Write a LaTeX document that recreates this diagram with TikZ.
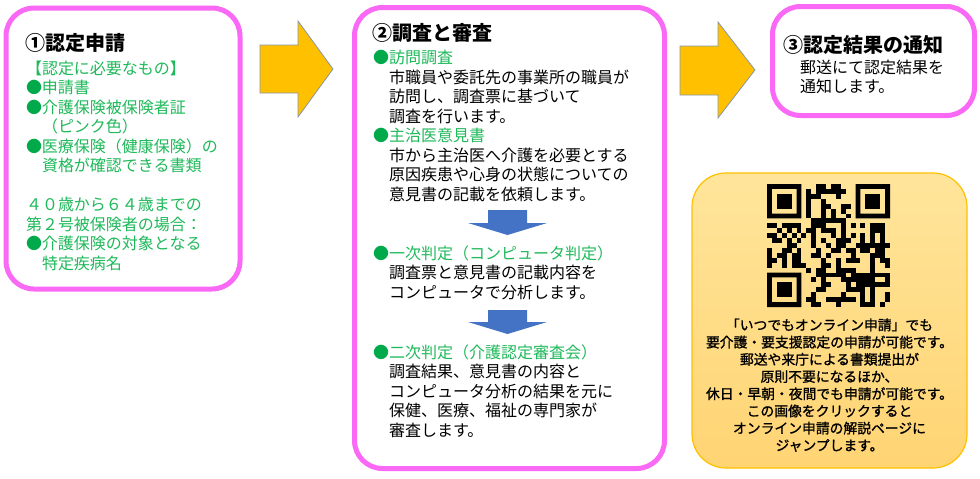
\documentclass[tikz,border=0pt]{standalone}
\usepackage{fontspec}
\setmainfont{Noto Sans CJK JP}
\newfontfamily\jpheavy[FakeBold=1.2]{Noto Sans CJK JP}
\usetikzlibrary{positioning, calc}

\definecolor{pinkline}{RGB}{250,105,245}
\definecolor{greentext}{RGB}{30,185,90}
\definecolor{bulletgreen}{RGB}{0,170,75}
\definecolor{arroworange}{RGB}{255,192,0}
\definecolor{arrowedge}{RGB}{132,151,176}
\definecolor{arrowblue}{RGB}{68,114,196}
\definecolor{qrtop}{RGB}{255,229,155}
\definecolor{qrbottom}{RGB}{255,212,115}
\definecolor{qredge}{RGB}{255,192,0}

\newcommand\grnbullet{\textcolor{bulletgreen}{●}}

\tikzset{
  stepbox/.style={draw=pinkline, line width=5, rounded corners=28, fill=white},
  qrbox/.style={draw=qredge, line width=1.2, rounded corners=34, top color=qrtop, bottom color=qrbottom},
  titletext/.style={anchor=north west, font=\fontsize{20}{24}\selectfont\bfseries},
  bodytext/.style={anchor=north west, align=left, font=\fontsize{16}{19.5}\selectfont},
  bigarrow/.style={fill=arroworange, draw=arrowedge, line width=0.8},
  downarrow/.style={fill=arrowblue}
}

\begin{document}
\begin{tikzpicture}[x=1pt, y=-1pt, every node/.style={inner sep=0, outer sep=0}]
  \useasboundingbox (0,0) rectangle (980,479);

  % boxes
  \node[stepbox, minimum width=234, minimum height=281] (apply) at (123,148.5) {};
  \node[stepbox, minimum width=310, minimum height=461] (survey) at (509.5,238) {};
  \node[stepbox, minimum width=202, minimum height=109] (notice) at (873.5,61) {};
  \node[qrbox, minimum width=275, minimum height=295] (online) at (829.5,320.5) {};

  % step 1
  \node[titletext] (applytitle) at (25,33.6) {①認定申請};
  \node[bodytext, text=greentext] (applybody) at (26,60.5) {%
    【認定に必要なもの】\\
    \grnbullet 申請書\\
    \grnbullet 介護保険被保険者証\\
    　（ピンク色）\\
    \grnbullet 医療保険（健康保険）の\\
    　資格が確認できる書類\\[19.5pt]
    ４０歳から６４歳までの\\
    第２号被保険者の場合：\\
    \grnbullet 介護保険の対象となる\\
    　特定疾病名};

  % step 2
  \node[titletext] (surveytitle) at (372,23.6) {②調査と審査};
  \node[bodytext] (visit) at (373,50.5) {%
    \grnbullet\textcolor{greentext}{訪問調査}\\
    　市職員や委託先の事業所の職員が\\
    　訪問し、調査票に基づいて\\
    　調査を行います。\\
    \grnbullet\textcolor{greentext}{主治医意見書}\\
    　市から主治医へ介護を必要とする\\
    　原因疾患や心身の状態についての\\
    　意見書の記載を依頼します。};
  \node[bodytext] (first) at (373,245.5) {%
    \grnbullet\textcolor{greentext}{一次判定（コンピュータ判定）}\\
    　調査票と意見書の記載内容を\\
    　コンピュータで分析します。};
  \node[bodytext] (second) at (373,344.5) {%
    \grnbullet\textcolor{greentext}{二次判定（介護認定審査会）}\\
    　調査結果、意見書の内容と\\
    　コンピュータ分析の結果を元に\\
    　保健、医療、福祉の専門家が\\
    　審査します。};

  \fill[downarrow] (488,210) -- (527,210) -- (527,223) -- (547,223) -- (507.5,235)
    -- (468,223) -- (488,223) -- cycle;
  \fill[downarrow] (488,310) -- (527,310) -- (527,322) -- (547,322) -- (507.5,334)
    -- (468,322) -- (488,322) -- cycle;

  % step 3
  \node[titletext] (noticetitle) at (783,35.6) {③認定結果の通知};
  \node[bodytext, font=\fontsize{16}{19}\selectfont] (noticebody) at (800,60.5) {%
    郵送にて認定結果を\\
    通知します。};

  % arrows between steps
  \draw[bigarrow] (260,45) -- (298,45) -- (298,21) -- (333,69) -- (298,117)
    -- (298,93) -- (260,93) -- cycle;
  \draw[bigarrow] (680,46) -- (718,46) -- (718,22) -- (755,70) -- (718,118)
    -- (718,95) -- (680,95) -- cycle;

  % QR code
  \pgfmathsetseed{4321}
  \foreach \fx/\fy in {767/184, 855.56/184, 767/272.56}{
    \fill[even odd rule] (\fx,\fy) rectangle ++(34.44,34.44)
      (\fx+4.92,\fy+4.92) rectangle ++(24.6,24.6);
    \fill (\fx+9.84,\fy+9.84) rectangle ++(14.76,14.76);
  }
  \foreach \r in {0,...,24}{
    \foreach \c in {0,...,24}{
      \pgfmathtruncatemacro\qrfree{((\r>7)||(\c>7))&&((\r>7)||(\c<17))&&((\r<17)||(\c>7))}
      \pgfmathtruncatemacro\qrbit{rnd<0.5}
      \ifnum\numexpr\qrfree*\qrbit\relax=1
        \fill (767+\c*4.92,184+\r*4.92) rectangle ++(4.92,4.92);
      \fi
    }
  }

  \node[anchor=north, align=center, font=\jpheavy\fontsize{13.8}{17.2}\selectfont] (onlinetext) at (829.5,318.5) {%
    「いつでもオンライン申請」でも\\
    要介護・要支援認定の申請が可能です。\\
    郵送や来庁による書類提出が\\
    原則不要になるほか、\\
    休日・早朝・夜間でも申請が可能です。\\
    この画像をクリックすると\\
    オンライン申請の解説ページに\\
    ジャンプします。};
\end{tikzpicture}
\end{document}
